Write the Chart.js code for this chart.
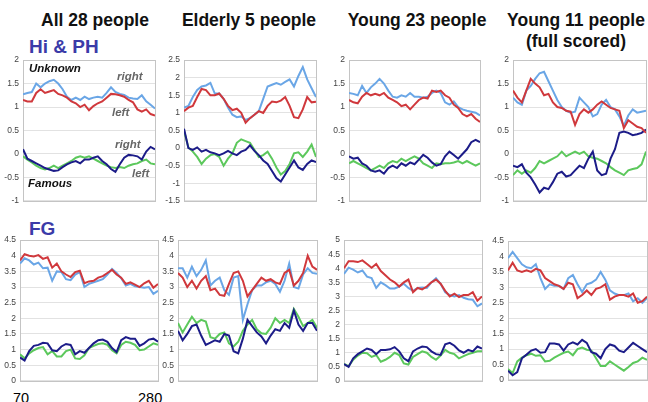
<!DOCTYPE html>
<html>
<head>
<meta charset="utf-8">
<script src="https://cdn.jsdelivr.net/npm/chart.js@4.4.1/dist/chart.umd.min.js"></script>
<style>
  body { margin: 0; background: #fff; width: 648px; height: 402px; overflow: hidden; position: relative;
         font-family: "Liberation Sans", Arial, sans-serif; }
  .lbl { position: absolute; white-space: nowrap; }
  .title { font-weight: bold; font-size: 17.5px; line-height: 17.5px; color: #111; width: 200px; text-align: center; }
  .group { font-weight: bold; font-size: 19px; line-height: 19px; color: #3b3ba8; }
  .note { font-weight: bold; font-style: italic; font-size: 11.5px; line-height: 11.5px; }
  canvas { position: absolute; }
</style>
</head>
<body>
<div class="lbl title" style="left:-5px;top:12px">All 28 people</div>
<div class="lbl title" style="left:149px;top:12px">Elderly 5 people</div>
<div class="lbl title" style="left:317px;top:12px">Young 23 people</div>
<div class="lbl title" style="left:476px;top:12px">Young 11 people</div>
<div class="lbl title" style="left:476px;top:33px">(full scored)</div>
<div class="lbl group" style="left:29px;top:37px">Hi &amp; PH</div>
<div class="lbl group" style="left:29px;top:219px">FG</div>
<div class="lbl" style="left:13px;top:391px;font-size:14.5px;line-height:14.5px">70</div>
<div class="lbl" style="left:138px;top:391px;font-size:14.5px;line-height:14.5px">280</div>

<canvas id="c1"></canvas><canvas id="c2"></canvas><canvas id="c3"></canvas><canvas id="c4"></canvas>
<canvas id="c5"></canvas><canvas id="c6"></canvas><canvas id="c7"></canvas><canvas id="c8"></canvas>

<div class="lbl note" style="left:29px;top:63px;color:#111">Unknown</div>
<div class="lbl note" style="left:117px;top:71px;color:#666">right</div>
<div class="lbl note" style="left:112px;top:107px;color:#666">left</div>
<div class="lbl note" style="left:115px;top:139px;color:#666">right</div>
<div class="lbl note" style="left:132px;top:168px;color:#666">left</div>
<div class="lbl note" style="left:28px;top:178px;color:#111">Famous</div>

<script>
// time points (70 .. 280)
var xValues = [70,77,84,91,98,105,112,119,126,133,140,147,154,161,168,175,182,189,196,203,210,217,224,231,238,245,252,259,266,273,280];

// Hi & PH - All 28 people
var hiAllUnkRight = [1.27,1.3,1.32,1.5,1.42,1.5,1.55,1.58,1.5,1.38,1.22,1.15,1.2,1.15,1.22,1.17,1.2,1.22,1.2,1.3,1.42,1.32,1.28,1.26,1.2,1.18,1.17,1.25,1.12,1.05,0.97];
var hiAllUnkLeft  = [1.15,1.12,1.12,1.3,1.38,1.3,1.33,1.36,1.28,1.25,1.2,1.12,1.08,1.0,1.05,0.93,1.02,1.08,1.12,1.2,1.28,1.27,1.25,1.22,1.15,1.1,0.95,0.9,0.95,0.85,0.82];
var hiAllFamRight = [0.1,-0.1,-0.15,-0.2,-0.25,-0.3,-0.33,-0.36,-0.35,-0.28,-0.22,-0.18,-0.15,-0.2,-0.12,-0.12,-0.08,-0.05,-0.15,-0.22,-0.32,-0.38,-0.22,-0.08,-0.02,-0.03,-0.05,-0.12,0.05,0.15,0.1];
var hiAllFamLeft  = [-0.05,-0.12,-0.18,-0.25,-0.3,-0.33,-0.3,-0.25,-0.3,-0.25,-0.2,-0.15,-0.08,-0.05,-0.08,-0.05,-0.1,-0.15,-0.2,-0.25,-0.28,-0.3,-0.28,-0.3,-0.25,-0.22,-0.2,-0.15,-0.12,-0.2,-0.22];

// Hi & PH - Elderly 5 people
var hiOldUnkRight = [1.15,1.2,1.45,1.65,1.75,1.78,1.85,1.55,1.55,1.4,1.15,0.95,0.88,0.9,0.8,0.85,0.95,1.05,1.4,1.75,1.8,1.85,1.8,1.88,1.95,1.75,2.05,2.3,1.95,1.7,1.45];
var hiOldUnkLeft  = [1.05,1.15,1.2,1.45,1.68,1.65,1.5,1.5,1.55,1.4,1.2,1.08,1.12,1.0,0.72,0.85,0.95,1.05,1.0,1.2,1.32,1.3,1.35,1.45,1.2,0.88,0.85,1.1,1.45,1.3,1.32];
var hiOldFamRight = [0.55,0.0,-0.05,0.02,-0.1,-0.05,-0.12,-0.15,-0.2,-0.15,-0.08,-0.15,-0.2,-0.1,-0.05,0.08,-0.08,-0.2,-0.35,-0.45,-0.65,-0.85,-0.95,-0.75,-0.55,-0.35,-0.55,-0.62,-0.45,-0.35,-0.4];
var hiOldFamLeft  = [0.5,0.02,-0.1,-0.25,-0.45,-0.3,-0.2,-0.17,-0.25,-0.5,-0.3,-0.15,0.15,0.25,0.2,0.15,-0.05,-0.25,-0.2,-0.1,-0.3,-0.55,-0.75,-0.65,-0.45,-0.15,-0.12,-0.25,-0.1,0.1,-0.25];

// Hi & PH - Young 23 people
var hiY23UnkRight = [1.3,1.28,1.25,1.45,1.3,1.42,1.5,1.6,1.5,1.35,1.22,1.2,1.25,1.22,1.3,1.22,1.22,1.2,1.22,1.3,1.35,1.3,1.1,1.05,1.12,1.0,0.95,0.92,0.9,0.88,0.82];
var hiY23UnkLeft  = [1.15,1.1,1.08,1.22,1.3,1.25,1.28,1.25,1.3,1.2,1.15,1.1,1.02,1.05,0.95,1.05,1.15,1.2,1.18,1.35,1.32,1.35,1.25,1.2,1.05,0.98,0.85,0.8,0.85,0.75,0.68];
var hiY23FamRight = [-0.05,-0.1,-0.08,-0.2,-0.25,-0.35,-0.38,-0.35,-0.42,-0.3,-0.25,-0.3,-0.2,-0.25,-0.18,-0.22,-0.12,-0.02,-0.08,-0.18,-0.25,-0.22,-0.05,0.05,-0.02,-0.1,0.0,0.1,0.25,0.3,0.25];
var hiY23FamLeft  = [-0.2,-0.15,-0.2,-0.25,-0.3,-0.35,-0.3,-0.25,-0.3,-0.2,-0.15,-0.18,-0.1,-0.15,-0.1,-0.05,-0.1,-0.2,-0.25,-0.3,-0.2,-0.22,-0.2,-0.2,-0.18,-0.15,-0.2,-0.15,-0.2,-0.25,-0.2];

// Hi & PH - Young 11 people (full scored)
var hiY11UnkRight = [1.2,1.1,1.05,1.35,1.45,1.6,1.72,1.75,1.55,1.35,1.15,1.0,0.92,0.88,0.9,1.2,1.1,1.0,0.8,0.85,1.05,1.15,1.0,0.95,0.8,0.6,0.82,0.95,0.88,0.9,0.92];
var hiY11UnkLeft  = [1.35,1.2,1.1,1.35,1.6,1.5,1.42,1.25,1.28,1.1,1.0,0.98,0.92,0.9,0.62,0.85,0.95,0.88,0.95,1.05,1.12,1.05,0.98,0.95,0.92,0.55,0.72,0.65,0.58,0.55,0.45];
var hiY11FamRight = [-0.25,-0.28,-0.22,-0.4,-0.5,-0.65,-0.82,-0.72,-0.75,-0.6,-0.42,-0.38,-0.48,-0.45,-0.35,-0.25,-0.3,-0.1,0.05,-0.35,-0.45,-0.42,-0.1,0.1,0.45,0.48,0.45,0.4,0.42,0.45,0.52];
var hiY11FamLeft  = [-0.45,-0.35,-0.42,-0.35,-0.4,-0.3,-0.15,-0.2,-0.15,-0.1,-0.05,0.05,-0.05,0.0,0.05,0.0,0.05,-0.05,-0.08,-0.1,-0.15,-0.2,-0.28,-0.35,-0.4,-0.45,-0.35,-0.32,-0.3,-0.22,0.05];

// FG - All 28 people
var fgAllUnkRight = [3.75,3.92,3.85,3.72,3.78,3.6,3.62,3.2,3.5,3.48,3.25,3.22,3.4,3.48,3.0,3.1,3.15,3.2,3.25,3.4,3.58,3.45,3.28,3.05,3.1,3.02,3.0,2.98,3.0,2.78,2.88];
var fgAllUnkLeft  = [3.85,4.05,4.0,3.98,4.02,3.9,3.95,3.62,3.75,3.5,3.4,3.32,3.48,3.52,3.12,3.18,3.2,3.3,3.35,3.45,3.55,3.4,3.3,3.1,3.15,3.08,3.0,3.12,3.2,2.98,3.1];
var fgAllFamRight = [0.75,0.65,0.95,1.12,1.15,1.22,1.2,0.98,0.95,1.1,1.18,1.15,0.85,0.95,0.9,1.05,1.2,1.3,1.32,1.25,1.05,0.92,1.3,1.4,1.35,1.35,1.12,1.2,1.32,1.35,1.25];
var fgAllFamLeft  = [0.85,0.72,0.88,0.98,1.05,1.08,0.85,0.95,0.78,0.78,0.95,1.0,0.72,0.7,0.82,1.05,1.12,1.18,1.2,1.15,0.98,0.88,1.15,1.25,1.22,1.15,0.98,1.0,1.1,1.2,1.15];

// FG - Elderly 5 people
var fgOldUnkRight = [3.6,3.6,3.3,3.65,3.35,3.55,3.85,3.05,3.2,3.3,2.9,2.75,3.3,3.35,1.95,2.45,2.9,3.05,3.05,3.15,3.2,3.1,2.85,3.2,3.75,3.0,2.95,3.4,3.6,3.45,3.42];
var fgOldUnkLeft  = [3.45,3.3,3.0,3.2,2.95,3.2,3.35,2.9,2.95,2.75,2.72,3.1,3.45,3.5,3.2,2.7,2.9,3.1,3.3,3.2,3.25,3.15,3.1,3.45,3.55,3.05,3.2,3.45,4.0,3.65,3.55];
var fgOldFamRight = [1.6,1.3,1.5,1.75,1.8,1.45,1.15,1.22,1.3,1.25,1.5,1.45,0.95,0.88,1.35,1.95,1.75,1.55,1.42,1.2,1.45,1.65,1.6,1.85,1.7,2.25,1.8,1.6,1.85,1.85,1.6];
var fgOldFamLeft  = [1.85,1.55,1.8,2.05,1.85,1.95,1.9,1.4,1.35,1.5,1.55,1.2,1.1,1.25,1.6,1.8,1.95,1.65,1.52,1.5,1.7,2.0,1.85,1.95,1.85,2.3,2.05,1.75,1.85,1.95,1.7];

// FG - Young 23 people
var fgY23UnkRight = [3.8,4.02,3.95,3.85,3.92,3.7,3.65,3.3,3.5,3.4,3.28,3.28,3.35,3.45,3.3,3.2,3.3,3.32,3.3,3.5,3.65,3.45,3.15,3.05,3.0,3.05,2.95,2.9,2.88,2.65,2.75];
var fgY23UnkLeft  = [4.0,4.25,4.25,4.22,4.28,4.15,4.02,4.15,3.9,3.75,3.6,3.5,3.35,3.5,3.6,3.15,3.3,3.25,3.35,3.5,3.6,3.45,3.2,3.0,3.1,2.98,3.05,3.05,3.15,2.85,3.0];
var fgY23FamRight = [0.6,0.5,0.8,0.95,1.05,1.15,1.1,0.95,1.1,1.1,1.12,1.2,1.05,0.8,0.7,1.05,1.15,1.22,1.2,1.05,0.95,0.92,1.3,1.35,1.25,1.08,1.0,1.1,1.05,1.22,1.15];
var fgY23FamLeft  = [0.6,0.52,0.75,0.9,1.0,0.98,0.85,0.92,0.68,0.75,0.85,1.0,0.92,0.62,0.58,0.85,0.95,1.05,1.0,0.85,0.75,0.9,1.1,1.0,0.95,0.8,0.88,0.95,1.0,1.05,1.05];

// FG - Young 11 people (full scored)
var fgY11UnkRight = [3.95,4.15,3.95,3.75,3.65,3.62,3.75,3.3,2.95,3.1,3.05,3.05,2.95,3.3,3.4,3.1,2.85,3.1,3.15,3.25,3.5,3.25,2.9,2.8,2.75,2.75,2.8,2.55,2.65,2.5,2.65];
var fgY11UnkLeft  = [3.55,3.8,3.55,3.5,3.55,3.5,3.6,3.55,3.3,3.2,3.1,3.05,2.95,3.15,3.1,2.65,2.75,2.9,2.75,2.95,3.0,3.1,2.6,2.7,2.75,2.75,2.7,2.8,2.5,2.55,2.7];
var fgY11FamRight = [0.3,0.15,0.25,0.7,0.82,0.95,1.0,0.88,0.9,1.18,1.18,1.15,0.95,1.15,1.22,1.15,1.3,1.2,0.9,0.85,0.7,1.0,1.15,1.1,0.95,0.9,1.05,1.2,1.1,1.0,0.9];
var fgY11FamLeft  = [0.35,0.22,0.6,0.72,0.8,0.85,0.78,0.8,0.6,0.62,0.72,0.8,0.88,0.92,0.8,1.0,1.05,0.98,0.95,0.7,0.45,0.45,0.6,0.5,0.4,0.3,0.42,0.55,0.6,0.72,0.65];

var colUnkRight = '#6aa6e6';
var colUnkLeft = '#d0383c';
var colFamRight = '#1c1c88';
var colFamLeft = '#5cc85c';

Chart.defaults.font.family = '"Liberation Sans", Arial, sans-serif';

// draws the grey box round the plot
var frame = {
  id: 'frame',
  beforeDatasetsDraw: function (chart) {
    var a = chart.chartArea, c = chart.ctx;
    c.save();
    c.strokeStyle = '#c4c4c4';
    c.lineWidth = 1;
    c.strokeRect(Math.round(a.left) + 0.5, Math.round(a.top) + 0.5, Math.round(a.right - a.left), Math.round(a.bottom - a.top));
    c.restore();
  }
};

function series(values, color) {
  return {
    data: values.map(function (v, i) { return { x: xValues[i], y: v }; }),
    borderColor: color,
    borderWidth: 2,
    pointRadius: 0,
    tension: 0,
    fill: false
  };
}

// box = [plot left, plot right, plot top, plot bottom] in page pixels
function makePanel(id, box, yMin, yMax, unkR, unkL, famR, famL) {
  var axisW = 26, pad = 7;
  var cv = document.getElementById(id);
  var w = Math.round(box[1] - box[0]) + axisW + 2;
  var h = Math.round(box[3] - box[2]) + pad * 2;
  cv.width = w; cv.height = h;
  cv.style.left = Math.round(box[0] - axisW) + 'px';
  cv.style.top = Math.round(box[2] - pad) + 'px';
  new Chart(cv.getContext('2d'), {
    type: 'line',
    data: {
      datasets: [
        series(unkL, colUnkLeft),
        series(unkR, colUnkRight),
        series(famR, colFamRight),
        series(famL, colFamLeft)
      ]
    },
    options: {
      responsive: false,
      animation: false,
      layout: { padding: { top: pad, bottom: pad, left: 0, right: 2 } },
      plugins: { legend: { display: false }, tooltip: { enabled: false } },
      scales: {
        x: { type: 'linear', min: 70, max: 280, display: false },
        y: {
          min: yMin, max: yMax,
          ticks: {
            stepSize: 0.5, color: '#444', font: { size: 8.5 }, padding: 4,
            callback: function (v) { return String(Math.round(v * 10) / 10); }
          },
          grid: { color: '#e2e2e2', drawTicks: false },
          border: { display: false },
          afterFit: function (s) { s.width = axisW; }
        }
      }
    },
    plugins: [frame]
  });
}

makePanel('c1', [23, 155, 58, 203], -1, 2, hiAllUnkRight, hiAllUnkLeft, hiAllFamRight, hiAllFamLeft);
makePanel('c2', [184, 316, 58, 203], -1.5, 2.5, hiOldUnkRight, hiOldUnkLeft, hiOldFamRight, hiOldFamLeft);
makePanel('c3', [349, 480, 58, 203], -1, 2, hiY23UnkRight, hiY23UnkLeft, hiY23FamRight, hiY23FamLeft);
makePanel('c4', [513, 646, 58, 203], -1, 2, hiY11UnkRight, hiY11UnkLeft, hiY11FamRight, hiY11FamLeft);
makePanel('c5', [20, 158, 238, 383], 0, 4.5, fgAllUnkRight, fgAllUnkLeft, fgAllFamRight, fgAllFamLeft);
makePanel('c6', [178, 317, 238, 383], 0, 4.5, fgOldUnkRight, fgOldUnkLeft, fgOldFamRight, fgOldFamLeft);
makePanel('c7', [344, 482, 238, 383], 0, 5, fgY23UnkRight, fgY23UnkLeft, fgY23FamRight, fgY23FamLeft);
makePanel('c8', [508, 647, 239, 382], 0, 4.5, fgY11UnkRight, fgY11UnkLeft, fgY11FamRight, fgY11FamLeft);
</script>
</body>
</html>
